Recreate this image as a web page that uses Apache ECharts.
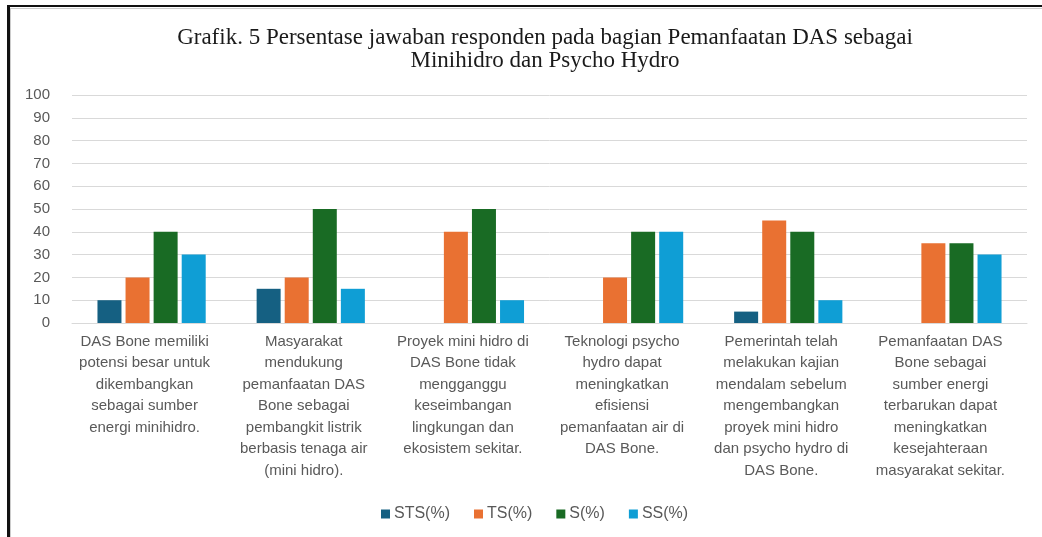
<!DOCTYPE html>
<html>
<head>
<meta charset="utf-8" />
<title>Grafik 5</title>
<style>
html, body { margin:0; padding:0; overflow:hidden; background:#fff; }
#frame1 { position:absolute; left:7px; top:5px; width:1100px; height:600px; border-left:3px solid #111; border-top:2px solid #111; }
#frame2 { position:absolute; left:10px; top:8px; width:1100px; height:600px; border-left:1px solid #ccc; border-top:1px solid #ccc; }
#echart { position:absolute; left:0; top:0; width:1042px; height:537px; }
</style>
</head>
<body>
<div id="frame1"></div>
<div id="frame2"></div>
<div id="echart"></div>
<script src="https://cdn.jsdelivr.net/npm/echarts@6/dist/echarts.min.js"></script>
<script type="text/javascript">
// kategori pertanyaan (baris dipecah seperti di gambar)
var categories = [
    'DAS Bone memiliki\npotensi besar untuk\ndikembangkan\nsebagai sumber\nenergi minihidro.',
    'Masyarakat\nmendukung\npemanfaatan DAS\nBone sebagai\npembangkit listrik\nberbasis tenaga air\n(mini hidro).',
    'Proyek mini hidro di\nDAS Bone tidak\nmengganggu\nkeseimbangan\nlingkungan dan\nekosistem sekitar.',
    'Teknologi psycho\nhydro dapat\nmeningkatkan\nefisiensi\npemanfaatan air di\nDAS Bone.',
    'Pemerintah telah\nmelakukan kajian\nmendalam sebelum\nmengembangkan\nproyek mini hidro\ndan psycho hydro di\nDAS Bone.',
    'Pemanfaatan DAS\nBone sebagai\nsumber energi\nterbarukan dapat\nmeningkatkan\nkesejahteraan\nmasyarakat sekitar.'
];
var STS = [10, 15, 0, 0, 5, 0];
var TS  = [20, 20, 40, 20, 45, 35];
var S   = [40, 50, 50, 40, 40, 35];
var SS  = [30, 15, 10, 40, 10, 30];
var yTicks = { min: 0, max: 100, interval: 10 };

var myChart = echarts.init(document.getElementById('echart'));
var option = {
    title: {
        text: 'Grafik. 5 Persentase jawaban responden pada bagian Pemanfaatan DAS sebagai\nMinihidro dan Psycho Hydro',
        left: 540,
        top: 21,
        textAlign: 'center',
        textStyle: {
            fontFamily: 'Liberation Serif',
            fontWeight: 'normal',
            fontSize: 23,
            lineHeight: 23,
            color: '#1a1a1a'
        }
    },
    legend: {
        data: ['STS(%)', 'TS(%)', 'S(%)', 'SS(%)'],
        left: 376,
        top: 501,
        icon: 'rect',
        itemWidth: 9,
        itemHeight: 9,
        itemGap: 24,
        textStyle: { fontFamily: 'Liberation Sans', fontSize: 16, color: '#595959', padding: [0, 0, 0, -1] }
    },
    grid: { left: 72, right: 15, top: 95, bottom: 214 },
    xAxis: {
        type: 'category',
        data: categories,
        axisTick: { show: false },
        axisLine: { lineStyle: { color: '#d9d9d9' } },
        axisLabel: {
            interval: 0,
            margin: 8,
            padding: [0, 14, 0, 0],
            fontFamily: 'Liberation Sans',
            fontSize: 15,
            lineHeight: 21.5,
            color: '#595959',
            align: 'center'
        }
    },
    yAxis: {
        type: 'value',
        min: yTicks.min,
        max: yTicks.max,
        interval: yTicks.interval,
        axisLine: { show: false },
        axisTick: { show: false },
        splitLine: { lineStyle: { color: '#d9d9d9', width: 1 } },
        axisLabel: { margin: 22, fontFamily: 'Liberation Sans', fontSize: 15, color: '#595959' }
    },
    series: [
        { name: 'STS(%)', type: 'bar', data: STS, barWidth: 24, barGap: '17%', itemStyle: { color: '#156082' } },
        { name: 'TS(%)', type: 'bar', data: TS, barWidth: 24, barGap: '17%', itemStyle: { color: '#E97132' } },
        { name: 'S(%)', type: 'bar', data: S, barWidth: 24, barGap: '17%', itemStyle: { color: '#196B24' } },
        { name: 'SS(%)', type: 'bar', data: SS, barWidth: 24, barGap: '17%', itemStyle: { color: '#0F9ED5' } }
    ],
    animation: false
};
option && myChart.setOption(option);
</script>
</body>
</html>
